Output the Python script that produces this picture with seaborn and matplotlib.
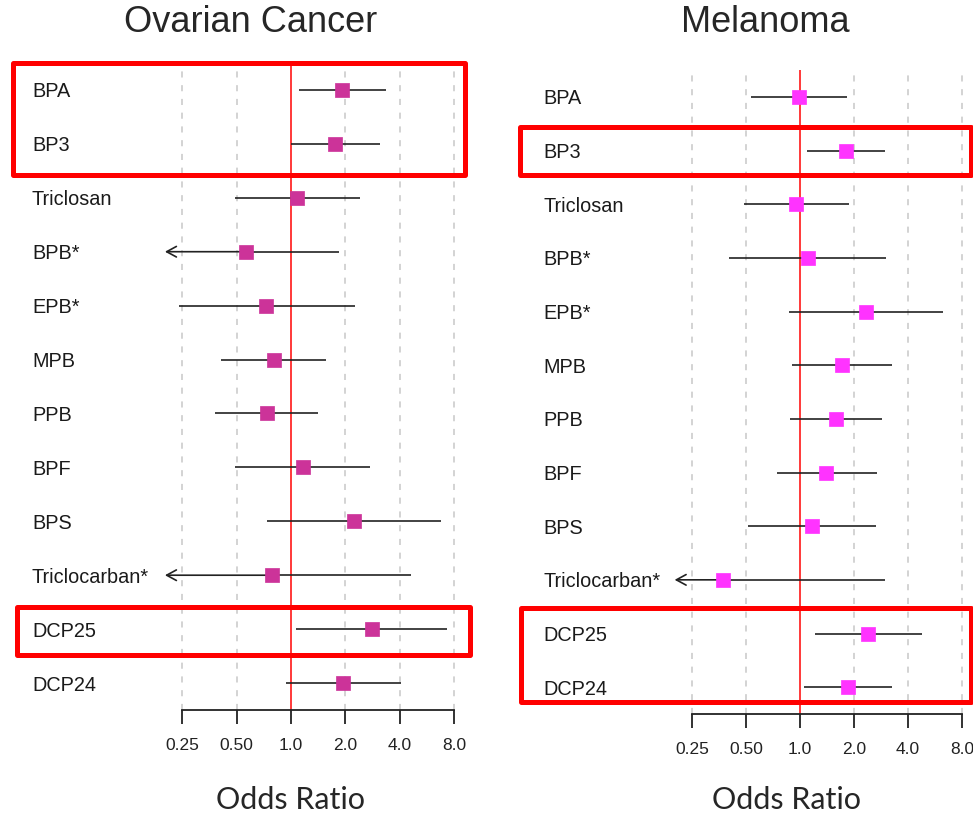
import numpy as np
import pandas as pd
import matplotlib
matplotlib.use('Agg')
import matplotlib.pyplot as plt
import seaborn as sns
from matplotlib.patches import Rectangle

# chemicals, top to bottom
chemicals = ['BPA', 'BP3', 'Triclosan', 'BPB*', 'EPB*', 'MPB', 'PPB', 'BPF',
             'BPS', 'Triclocarban*', 'DCP25', 'DCP24']

# odds ratios and 95% CI
# (lower bounds below 0.2 are cut off and drawn as arrows)
ovarian_or = [1.92, 1.75, 1.08, 0.56, 0.73, 0.81, 0.74, 1.17, 2.24, 0.78, 2.81, 1.94]
ovarian_lo = [1.11, 1.00, 0.49, 0.15, 0.24, 0.41, 0.38, 0.49, 0.74, 0.15, 1.07, 0.94]
ovarian_hi = [3.36, 3.11, 2.41, 1.85, 2.26, 1.56, 1.41, 2.74, 6.78, 4.63, 7.32, 4.07]

melanoma_or = [0.99, 1.80, 0.95, 1.11, 2.33, 1.71, 1.59, 1.40, 1.17, 0.37, 2.39, 1.85]
melanoma_lo = [0.53, 1.09, 0.49, 0.40, 0.87, 0.90, 0.88, 0.74, 0.51, 0.15, 1.21, 1.05]
melanoma_hi = [1.83, 2.98, 1.87, 3.02, 6.27, 3.26, 2.86, 2.69, 2.65, 2.98, 4.78, 3.26]

ticks = [0.25, 0.5, 1.0, 2.0, 4.0, 8.0]
tick_labels = ['0.25', '0.50', '1.0', '2.0', '4.0', '8.0']

W, H = 973, 817
sns.set_style('white')
plt.rcParams['font.family'] = ['Liberation Sans', 'DejaVu Sans']
fig = plt.figure(figsize=(W / 100, H / 100), dpi=100)


def px_axes(x0, x1, y0, y1):
    # pixel box (y from top) -> figure axes
    return fig.add_axes([x0 / W, 1 - y1 / H, (x1 - x0) / W, (y1 - y0) / H])


def forest(ax, odds, lo, hi, color, label_x, xmax):
    df = pd.DataFrame({'chem': chemicals, 'row': np.arange(len(chemicals)),
                       'odds': odds, 'lo': lo, 'hi': hi})
    ax.set_xscale('log', base=2)
    ax.set_xlim(2 ** -2.6, xmax)
    ax.set_ylim(11.5, -0.5)

    for t in ticks:
        if t != 1.0:
            ax.axvline(t, color='#c8c8c8', lw=1.1, ls=(0, (4, 5)), zorder=0)
    ax.axvline(1.0, color='#ff2a2a', lw=1.3, zorder=1)

    for _, r in df.iterrows():
        if r.lo < 0.2:
            ax.hlines(r.row, r.odds, r.hi, color='#222222', lw=1.2, zorder=2)
            ax.annotate('', xy=(0.2, r.row), xytext=(r.odds, r.row),
                        arrowprops=dict(arrowstyle='->,head_length=0.7,head_width=0.38',
                                        color='#222222', lw=1.2,
                                        shrinkA=0, shrinkB=0, mutation_scale=10),
                        zorder=2)
        else:
            ax.hlines(r.row, r.lo, r.hi, color='#222222', lw=1.2, zorder=2)

    sns.scatterplot(data=df, x='odds', y='row', marker='s', s=90, color=color,
                    edgecolor=color, linewidth=0.5, ax=ax, zorder=3, legend=False)

    # row labels, x in axes fraction
    for _, r in df.iterrows():
        ax.text(label_x, r.row, r.chem, transform=ax.get_yaxis_transform(),
                ha='left', va='center_baseline', fontsize=14.3, color='#1a1a1a')

    for s in ['top', 'right', 'left']:
        ax.spines[s].set_visible(False)
    ax.spines['bottom'].set_bounds(0.25, 8.0)
    ax.spines['bottom'].set_linewidth(1.3)
    ax.spines['bottom'].set_color('#222222')
    ax.set_xticks(ticks)
    ax.set_xticklabels(tick_labels)
    ax.minorticks_off()
    ax.set_yticks([])
    ax.tick_params(axis='x', direction='out', length=10, width=1.3, color='#222222',
                   pad=10, labelsize=12.5, labelcolor='#222222', bottom=True)
    ax.set_xlabel('')
    ax.set_ylabel('')


# left panel: 1.0 at px 291, 54.3 px per doubling
lx0 = 291 - 2.6 * 54.3
lx1 = 291 + 3.3 * 54.3
ax1 = px_axes(lx0, lx1, 63, 710)
forest(ax1, ovarian_or, ovarian_lo, ovarian_hi, '#cc3399',
       (32 - lx0) / (lx1 - lx0), 2 ** 3.3)

# right panel: 1.0 at px 800, 54 px per doubling
rx0 = 800 - 2.6 * 54
rx1 = 800 + 3.2 * 54
ax2 = px_axes(rx0, rx1, 70, 714)
forest(ax2, melanoma_or, melanoma_lo, melanoma_hi, '#ff33ff',
       (543 - rx0) / (rx1 - rx0), 2 ** 3.2)

fig.text(251 / W, 1 - 22 / H, 'Ovarian Cancer', ha='center', va='center', fontsize=26)
fig.text(765 / W, 1 - 22 / H, 'Melanoma', ha='center', va='center', fontsize=26)
fig.text(290 / W, 1 - 800 / H, 'Odds Ratio', ha='center', va='center', fontsize=22,
         family=['Lato', 'DejaVu Sans'])
fig.text(787 / W, 1 - 800 / H, 'Odds Ratio', ha='center', va='center', fontsize=22,
         family=['Lato', 'DejaVu Sans'])

# highlight boxes (pixel coords, y from top)
boxes = [(13, 63.5, 464.5, 174.5), (16.5, 607, 469.5, 654.7),
         (520, 127, 970.5, 174.5), (521, 607.5, 970.5, 702.3)]
for x0, y0, x1, y1 in boxes:
    fig.add_artist(Rectangle((x0 / W, 1 - y1 / H), (x1 - x0) / W, (y1 - y0) / H,
                             transform=fig.transFigure, fill=False, edgecolor='#ff0000',
                             lw=3.6, joinstyle='round', clip_on=False))

fig.savefig('out.png', dpi=100, facecolor='white')
